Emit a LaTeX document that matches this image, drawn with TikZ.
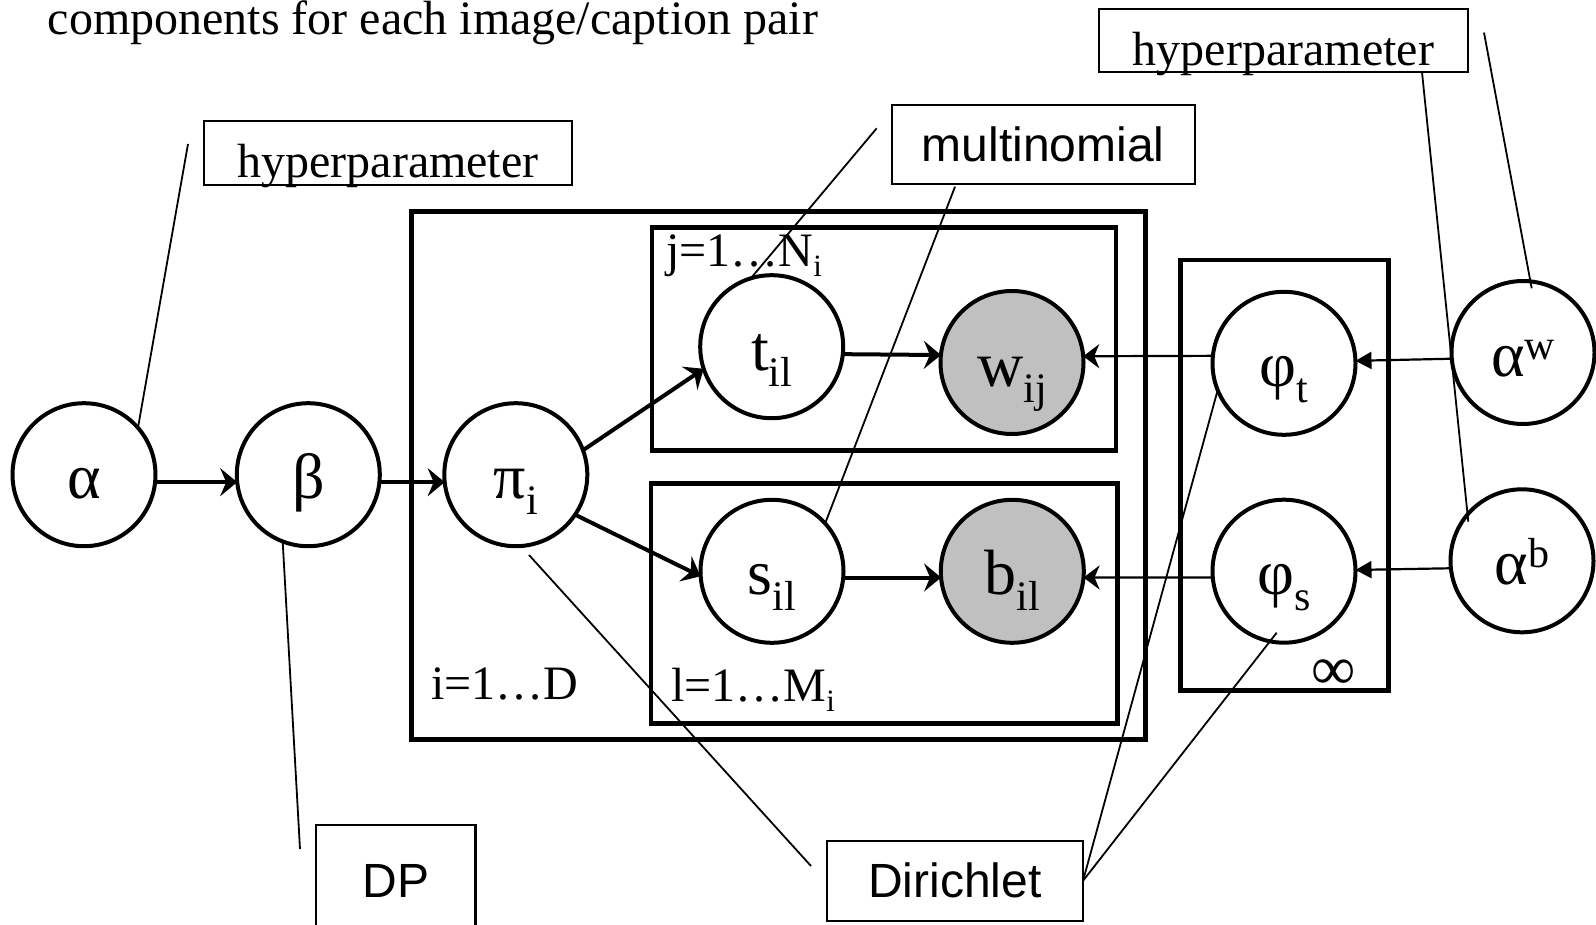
\documentclass[tikz,border=0pt]{standalone}
\usepackage{fontspec}
\setmainfont{Liberation Serif}
\newfontfamily\labelsans{Liberation Sans}
\usetikzlibrary{arrows.meta}
\definecolor{obsgray}{RGB}{192,192,192}
% lowered / raised indices on the variable names
\newcommand\lowidx[1]{\raisebox{-16pt}{\fontsize{42}{42}\selectfont #1}}
\newcommand\highidx[1]{\raisebox{17pt}{\fontsize{42}{42}\selectfont #1}}
\newcommand\platesub[1]{\raisebox{-10pt}{\fontsize{31}{31}\selectfont #1}}
\begin{document}
\begin{tikzpicture}[x=1pt,y=-1pt,
  var/.style={circle, draw, line width=4pt, fill=white, minimum size=143pt,
    inner sep=0pt, outer sep=0pt, font=\fontsize{64}{64}\selectfont,
    text height=47pt, text depth=0pt},
  obs/.style={var, fill=obsgray},
  plate/.style={draw, line width=4.5pt},
  tag/.style={draw, line width=2.2pt, inner sep=0pt, outer sep=0pt},
  serifbox/.style={tag, font=\fontsize{48}{48}\selectfont, text height=50pt, text depth=0pt},
  sansbox/.style={tag, font=\labelsans\fontsize{48}{48}\selectfont},
  edge/.style={line width=4pt, -{Stealth[length=17pt,width=28pt,inset=6pt]}},
  thinedge/.style={line width=2.2pt, -{Stealth[length=16pt,width=24pt,inset=5pt]}},
  hyperedge/.style={line width=2.2pt, -{Triangle[length=16pt,width=17pt]}},
  leader/.style={line width=1.8pt},
  platelabel/.style={anchor=base west, inner sep=0pt, font=\fontsize{48}{48}\selectfont},
]
\path[use as bounding box] (0,0) rectangle (1596,925);

% title line
\node[anchor=base west, inner sep=0pt, font=\fontsize{48}{48}\selectfont] (title)
  at (47.6,35) {components for each image/caption pair};

% plates
\draw[plate] (411.7,211.7) rectangle (1145.4,739.3);
\draw[plate] (652,227.3) rectangle (1116,450.7);
\draw[plate] (651,483.3) rectangle (1117.6,723.3);
\draw[plate] (1180.7,260) rectangle (1388.3,690.7);

\node[platelabel] (jlab) at (666,266.7) {j=1…N\platesub{i}};
\node[platelabel] (ilab) at (431,699) {i=1…D};
\node[platelabel] (llab) at (671,701.7) {l=1…M\platesub{i}};
\node[inner sep=0pt, font=\fontsize{62}{62}\selectfont] (inf) at (1334,675) {∞};

% annotation boxes
\node[serifbox, minimum width=368pt, minimum height=64pt] (hypL) at (388,153) {hyperparameter};
\node[serifbox, minimum width=368.5pt, minimum height=63pt] (hypR) at (1283.5,40.8) {hyperparameter};
\node[sansbox, minimum width=303pt, minimum height=79pt] (multi) at (1043.3,144.7) {multinomial};
\node[sansbox, minimum width=159.5pt, minimum height=112pt] (dp) at (395.8,881) {DP};
\node[sansbox, minimum width=256pt, minimum height=80pt] (dir) at (955,880.8) {Dirichlet};

% variables
\node[var] (alpha) at (84,474.7) {α};
\node[var] (beta) at (308.3,474.7) {β};
\node[var] (pi) at (515.8,474.7) {π\lowidx{i}};
\node[var] (nt) at (771.7,346.7) {t\lowidx{il}};
\node[obs] (nw) at (1012,362.5) {w\lowidx{ij}};
\node[var] (ns) at (772,571.3) {s\lowidx{il}};
\node[obs] (nb) at (1012.3,571.3) {b\lowidx{il}};
\node[var] (phit) at (1284,363.3) {φ\lowidx{t}};
\node[var] (phis) at (1284,571.2) {φ\lowidx{s}};
\node[var] (aw) at (1523,352.5) {α\highidx{w}};
\node[var] (ab) at (1522,560.8) {α\highidx{b}};

% dependencies
\draw[edge] (alpha.-6.8) -- (beta.186.8);
\draw[edge] (beta.-6.8) -- (pi.186.8);
\draw[edge] (pi.20) -- (nt.198.5);
\draw[edge] (pi.-34.5) -- (ns.184);
\draw[edge] (nt.-6.5) -- (nw.174.1);
\draw[edge] (ns.-5.5) -- (nb.185.5);
\draw[thinedge] (phit.174.3) -- (nw.5.1);
\draw[thinedge] (phis.185.6) -- (nb.-5.5);
\draw[hyperedge] (aw.185.9) -- (phit.2.6);
\draw[hyperedge] (ab.186.7) -- (phis.1.5);

% leader lines from the annotation boxes
\coordinate (hypLfoot) at (188,144);
\draw[leader] (hypLfoot) -- (alpha.41);
\coordinate (dpfoot) at (300,849);
\draw[leader] (beta.-111) -- (dpfoot);
\coordinate (multifootA) at (876.7,128.3);
\draw[leader] (multifootA) -- (nt.107);
\coordinate (multifootB) at (955,186.7);
\draw[leader] (multifootB) -- (ns.42);
\coordinate (pifoot) at (529,555);
\coordinate (dirfoot) at (811,866);
\draw[leader] (pifoot) -- (dirfoot);
\draw[leader] (phit.202) -- (dir.east);
\coordinate (phisfoot) at (1276.7,632.7);
\draw[leader] (phisfoot) -- (dir.east);
\coordinate (hypRfootA) at (1422,72.3);
\coordinate (abfoot) at (1468.3,521.7);
\draw[leader] (hypRfootA) -- (abfoot);
\coordinate (hypRfootB) at (1484,32.6);
\coordinate (awfoot) at (1531.7,288.3);
\draw[leader] (hypRfootB) -- (awfoot);
\end{tikzpicture}
\end{document}
